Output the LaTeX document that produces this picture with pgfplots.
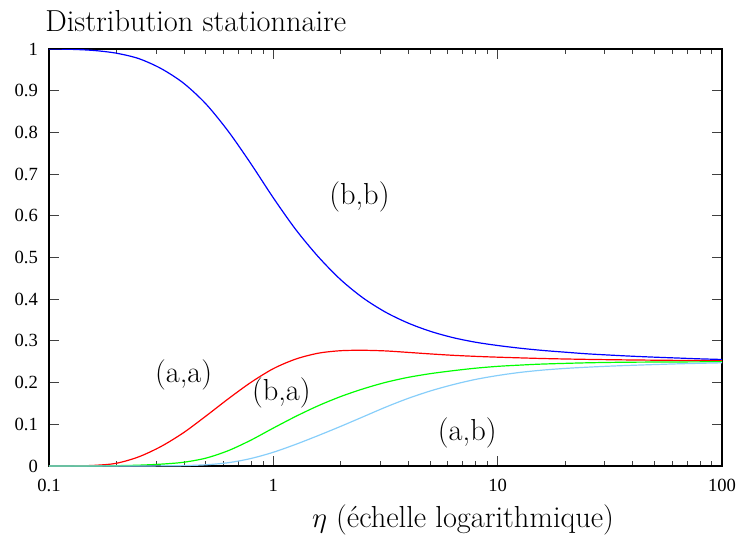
\documentclass[border=0pt]{standalone}
\usepackage{fontspec}
\usepackage{pgfplots}
\pgfplotsset{compat=1.18}
\newfontfamily\tickfont{Liberation Serif}

\definecolor{lightsky}{RGB}{135,206,250}

\begin{document}
\begin{tikzpicture}
% page = 742x538 px at 0.5pt per px
\path[use as bounding box] (-24.5pt,-36pt) rectangle (346.5pt,233pt);
\begin{axis}[
    at={(0,0)}, anchor=south west,
    scale only axis,
    width=336.5pt, height=208.5pt,
    xmode=log,
    xmin=0.1, xmax=100,
    ymin=0, ymax=1,
    xtick={0.1,1,10,100},
    xticklabels={0.1,1,10,100},
    ytick={0,0.1,0.2,0.3,0.4,0.5,0.6,0.7,0.8,0.9,1},
    yticklabels={0,0.1,0.2,0.3,0.4,0.5,0.6,0.7,0.8,0.9,1},
    tick align=inside,
    major tick length=5pt,
    minor tick length=2.5pt,
    every tick/.style={black!75, line width=0.5pt},
    axis line style={line width=0.8pt},
    tick label style={font=\tickfont\fontsize{9.3}{11}\selectfont},
    xticklabel style={yshift=-3pt},
    yticklabel style={xshift=-2pt},
    /pgf/number format/assume math mode=true,
    clip=true,
]
% (b,b)
\addplot[blue, line width=0.6pt, smooth] coordinates {
(0.1,1.000)(0.1259,0.9992)(0.1585,0.9965)(0.1995,0.990)(0.2512,0.977)
(0.3162,0.953)(0.3981,0.918)(0.5012,0.868)(0.631,0.802)(0.7943,0.725)
(1,0.643)(1.259,0.567)(1.585,0.502)(1.995,0.447)(2.512,0.403)
(3.162,0.369)(3.981,0.343)(5.012,0.323)(6.31,0.308)(7.943,0.297)
(10,0.289)(12.59,0.2825)(15.85,0.2772)(19.95,0.273)(25.12,0.269)
(31.62,0.266)(39.81,0.2633)(50.12,0.261)(63.1,0.259)(79.43,0.257)(100,0.2555)
};
% (a,a)
\addplot[red, line width=0.6pt, smooth] coordinates {
(0.1,0.000)(0.1259,0.0003)(0.1585,0.0015)(0.1995,0.0065)(0.2512,0.022)
(0.3162,0.047)(0.3981,0.080)(0.5012,0.120)(0.631,0.1615)(0.7943,0.2005)
(1,0.2335)(1.259,0.2565)(1.585,0.2705)(1.995,0.2765)(2.512,0.2775)
(3.162,0.276)(3.981,0.2725)(5.012,0.2688)(6.31,0.2655)(7.943,0.263)
(10,0.261)(15.85,0.2578)(25.12,0.2557)(39.81,0.2543)(63.1,0.2533)(100,0.2525)
};
% (b,a)
\addplot[green, line width=0.6pt, smooth] coordinates {
(0.1,0.000)(0.1585,0.0001)(0.1995,0.0008)(0.2512,0.002)(0.3162,0.0045)
(0.3981,0.009)(0.5012,0.019)(0.631,0.037)(0.7943,0.062)(1,0.091)
(1.259,0.119)(1.585,0.1445)(1.995,0.1665)(2.512,0.185)(3.162,0.2005)
(3.981,0.2125)(5.012,0.2215)(6.31,0.2285)(7.943,0.2345)(10,0.239)
(12.59,0.242)(15.85,0.2445)(25.12,0.2475)(39.81,0.249)(100,0.250)
};
% (a,b)
\addplot[lightsky, line width=0.6pt, smooth] coordinates {
(0.1,0.000)(0.2512,0.0001)(0.3162,0.0004)(0.3981,0.001)(0.5012,0.003)
(0.631,0.008)(0.7943,0.018)(1,0.033)(1.259,0.052)(1.585,0.073)
(1.995,0.095)(2.512,0.118)(3.162,0.141)(3.981,0.162)(5.012,0.180)
(6.31,0.195)(7.943,0.2075)(10,0.217)(12.59,0.2245)(15.85,0.230)
(19.95,0.234)(25.12,0.237)(31.62,0.2395)(39.81,0.2415)(63.1,0.245)(100,0.2475)
};
\node[font=\fontsize{15.2}{18}\selectfont] at (axis cs:2.42,0.645) {(b,b)};
\node[font=\fontsize{15.2}{18}\selectfont] at (axis cs:0.398,0.218) {(a,a)};
\node[font=\fontsize{15.2}{18}\selectfont] at (axis cs:1.086,0.175) {(b,a)};
\node[font=\fontsize{15.2}{18}\selectfont] at (axis cs:7.32,0.079) {(a,b)};
\end{axis}
\node[anchor=base west, inner sep=0pt, font=\fontsize{15.2}{18}\selectfont]
    at (-2pt,217.5pt) {Distribution stationnaire};
\node[anchor=base, inner sep=0pt, font=\fontsize{15.2}{18}\selectfont]
    at (207pt,-30.5pt) {$\eta$ (échelle logarithmique)};
\end{tikzpicture}
\end{document}
